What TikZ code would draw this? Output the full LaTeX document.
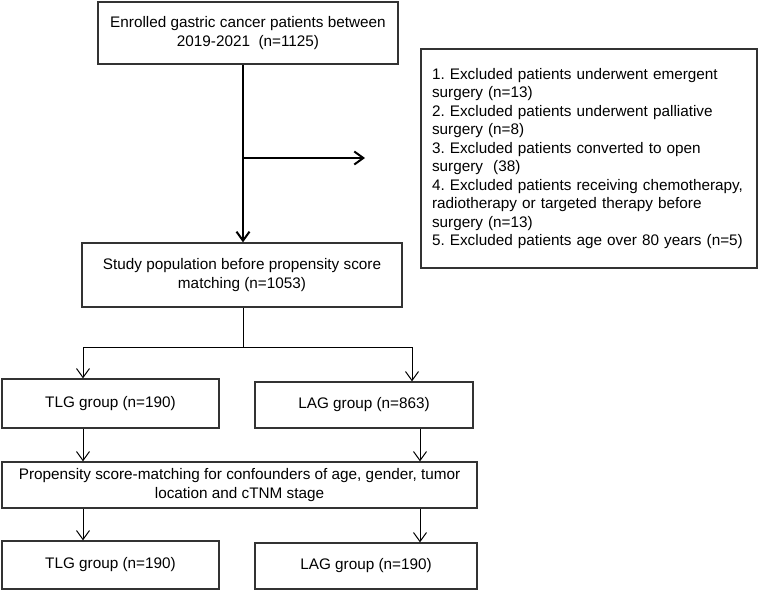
\documentclass[tikz,border=0pt]{standalone}
\usepackage{fontspec}
\setmainfont{Liberation Sans}
\usepackage{tikz}
\usetikzlibrary{
  arrows.meta,%
  calc,%
  positioning
}
\frenchspacing
\tikzset{>={Straight Barb[length=9pt,width=13pt]}}
\tikzset{font=\fontsize{15.3}{18.5}\selectfont}
\tikzset{box/.style={draw=black!80, line width=1.3pt, fill=white, inner sep=0pt,
    align=center}}
\tikzset{flow/.style={->, line width=1pt, black}}
\tikzset{mainflow/.style={->, line width=2pt, black}}

\begin{document}
\begin{tikzpicture}[x=1pt, y=-1pt]
      \useasboundingbox (0, 0) rectangle (760, 590); %
      % boxes
      \node[box, minimum width=300, minimum height=62] (enroll) at (248, 33)
        {Enrolled gastric cancer patients between\\2019-2021~ (n=1125)};
      \node[box, minimum width=336, minimum height=219, text width=314, align=left] (excl) at (589, 158.5)
        {1. Excluded patients underwent emergent\\
         surgery (n=13)\\
         2. Excluded patients underwent palliative\\
         surgery (n=8)\\
         3. Excluded patients converted to open\\
         surgery~ (38)\\
         4. Excluded patients receiving chemotherapy,\\
         radiotherapy or targeted therapy before\\
         surgery (n=13)\\
         5. Excluded patients age over 80 years (n=5)};
      \node[box, minimum width=320, minimum height=64] (study) at (242, 275)
        {Study population before propensity score\\matching (n=1053)};
      \node[box, minimum width=217, minimum height=49] (tlgA) at (110.5, 403.5) {TLG group (n=190)};
      \node[box, minimum width=218, minimum height=46] (lagA) at (364, 405) {LAG group (n=863)};
      \node[box, minimum width=475, minimum height=46] (psm) at (239.5, 485)
        {Propensity score-matching for confounders of age, gender, tumor\\location and cTNM stage};
      \node[box, minimum width=217, minimum height=48] (tlgB) at (110.5, 565) {TLG group (n=190)};
      \node[box, minimum width=222, minimum height=46] (lagB) at (366, 566) {LAG group (n=190)};
      % helper coordinates
      \coordinate (main) at (243, 0);
      \coordinate (side) at (365, 158);
      \coordinate (split) at (243, 347);
      \coordinate (left) at (83, 0);
      \coordinate (right) at (412, 0);
      \coordinate (rightB) at (420, 0);
      % connectors
      \draw[mainflow] (enroll.south -| main) -- (study.north -| main);
      \draw[mainflow] (side -| main) -- (side);
      \draw[line width=1pt] (study.south -| main) -- (split);
      \draw[flow] (split) -| (tlgA.north -| left);
      \draw[flow] (split) -| (lagA.north -| right);
      \draw[flow] (tlgA.south -| left) -- (psm.north -| left);
      \draw[flow] (lagA.south -| rightB) -- (psm.north -| rightB);
      \draw[flow] (psm.south -| left) -- (tlgB.north -| left);
      \draw[flow] (psm.south -| rightB) -- (lagB.north -| rightB);
    \end{tikzpicture}
\end{document}
